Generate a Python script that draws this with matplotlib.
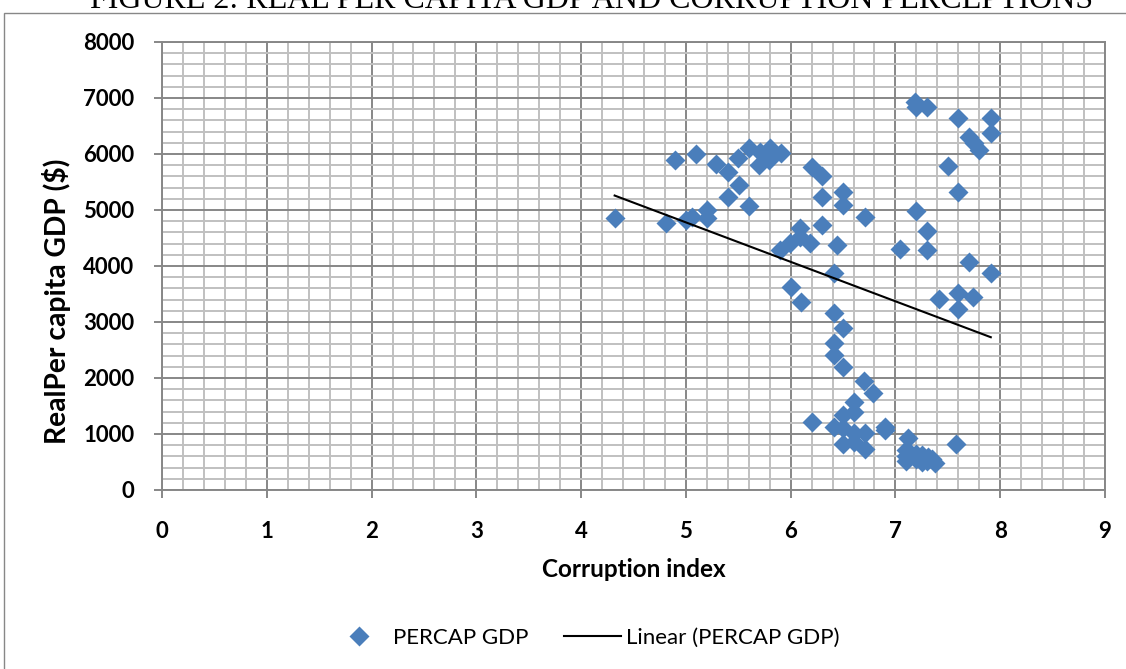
import matplotlib.pyplot as plt
import matplotlib.patches as mpatches
from matplotlib.ticker import MultipleLocator
import numpy as np

# corruption index vs real per capita GDP
# (the last six sit hidden under the dense low-GDP cluster)
corruption = [4.32, 4.81, 4.90, 5.00, 5.06, 5.10, 5.20, 5.20, 5.29, 5.40,
              5.51, 5.40, 5.60, 5.50, 5.60, 5.71, 5.70, 5.80, 5.79, 5.91,
              5.90, 5.99, 6.09, 6.18, 6.09, 6.20, 6.30, 6.30, 6.50, 6.50,
              6.71, 6.30, 6.44, 6.41, 6.00, 6.10, 6.41, 6.50, 6.41, 6.41,
              6.50, 6.70, 6.79, 6.20, 6.60, 6.60, 6.50, 6.41, 6.50, 6.60,
              6.71, 6.50, 6.60, 6.71, 6.90, 6.90, 7.12, 7.10, 7.10, 7.20,
              7.25, 7.31, 7.38, 7.58, 7.19, 7.20, 7.30, 7.60, 7.91, 7.91,
              7.70, 7.80, 7.75, 7.50, 7.60, 7.20, 7.30, 7.04, 7.30, 7.70,
              7.91, 7.42, 7.60, 7.74, 7.60,
              7.10, 7.20, 7.30, 7.15, 7.25, 7.35]
gdp = [4860, 4770, 5890, 4820, 4880, 6000, 5000, 4860, 5830, 5680,
       5450, 5240, 5070, 5920, 6100, 6040, 5800, 6100, 5890, 6010,
       4290, 4410, 4520, 4410, 4670, 5760, 5600, 5240, 5330, 5090,
       4870, 4730, 4375, 3870, 3620, 3360, 3160, 2890, 2620, 2410,
       2200, 1950, 1740, 1220, 1580, 1400, 1340, 1130, 1100, 1010,
       1010, 830, 860, 740, 1130, 1080, 920, 710, 520, 650,
       500, 590, 480, 830, 6930, 6840, 6840, 6640, 6640, 6370,
       6300, 6080, 6200, 5790, 5320, 4990, 4630, 4300, 4290, 4080,
       3870, 3410, 3510, 3450, 3240,
       600, 560, 520, 650, 620, 550]

x = np.array(corruption)
y = np.array(gdp)
slope, icpt = np.polyfit(x, y, 1)
xf = np.array([x.min(), x.max()])

major_c = '#878787'
minor_c = '#c0c0c0'
blue = '#4a7ebb'

fig = plt.figure(figsize=(11.26, 6.69), dpi=100)
ax = fig.add_axes([162/1126, 1 - 490/669, (1105 - 162)/1126, (490 - 42)/669])

ax.plot(x, y, 'D', color=blue, ms=10, mec='none', label='PERCAP GDP', zorder=3)
ax.plot(xf, slope * xf + icpt, color='black', lw=1.5, label='Linear (PERCAP GDP)', zorder=4)

ax.set_xlim(0, 9)
ax.set_ylim(0, 8000)
ax.xaxis.set_major_locator(MultipleLocator(1))
ax.xaxis.set_minor_locator(MultipleLocator(0.2))
ax.yaxis.set_major_locator(MultipleLocator(1000))
ax.yaxis.set_minor_locator(MultipleLocator(200))
ax.set_axisbelow(True)
ax.grid(which='minor', color=minor_c, lw=1.4)
ax.grid(which='major', color=major_c, lw=1.4)
for s in ax.spines.values():
    s.set_color(major_c)
    s.set_linewidth(1.4)

ax.tick_params(which='major', length=6, width=1.4, color=major_c, labelsize=16)
ax.tick_params(axis='x', which='major', pad=16)
ax.tick_params(axis='y', which='major', pad=14)
ax.tick_params(which='minor', length=0)
for lab in ax.get_xticklabels() + ax.get_yticklabels():
    lab.set_fontfamily('Lato')
    lab.set_fontweight('bold')

ax.set_xlabel('Corruption index', fontsize=17.5, fontweight='bold', family='Lato', labelpad=12)
ax.set_ylabel('RealPer capita GDP ($)', fontsize=20.3, fontweight='bold', family='Lato')
ax.yaxis.set_label_coords(-0.097, 0.422)

fig.legend(loc='center', bbox_to_anchor=(585/1126, 1 - 638/669), ncol=2, frameon=False,
           prop={'family': 'Lato', 'size': 16}, handlelength=2.6, columnspacing=1.6,
           handletextpad=0.2)

# outer chart border and the cut-off title above it
fig.patches.append(mpatches.Rectangle((4/1126, -0.05), 1.2, 1.05 - 13/669,
                                      transform=fig.transFigure, fill=False,
                                      edgecolor=major_c, lw=1))
fig.text(592/1126, 1 - 8/669, 'FIGURE 2: REAL PER CAPITA GDP AND CORRUPTION PERCEPTIONS',
         ha='center', va='baseline', family='Liberation Serif', fontsize=23)

fig.savefig('out.png', dpi=100)
